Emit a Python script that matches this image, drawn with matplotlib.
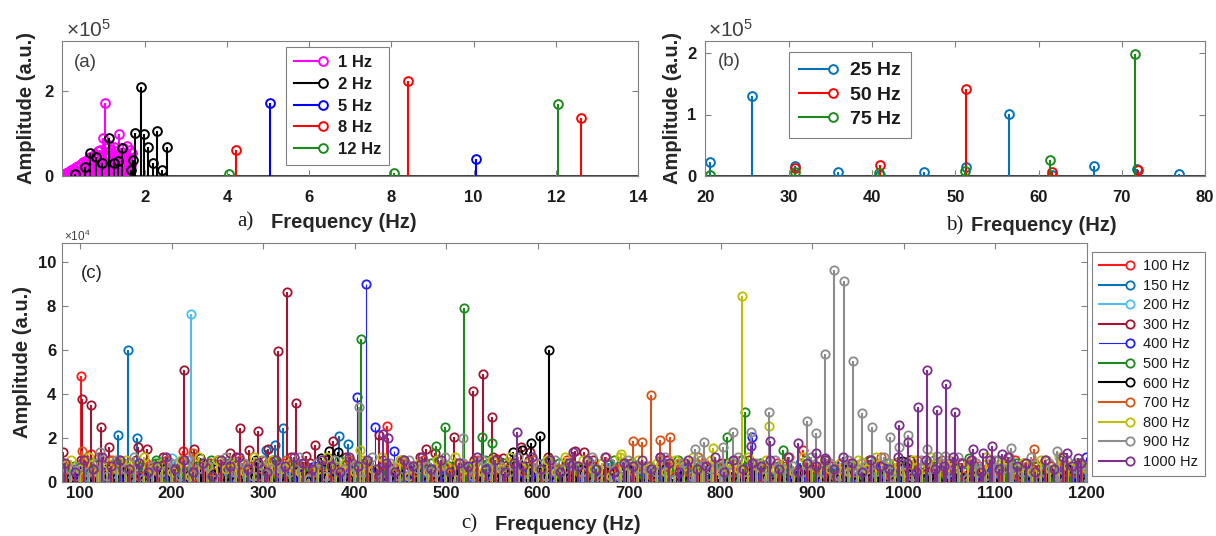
"""Vibration spectra, three stem panels (a: 1-12 Hz, b: 25-75 Hz, c: 100-1000 Hz)."""
import numpy as np
import matplotlib
matplotlib.use("Agg")
import matplotlib.pyplot as plt
from matplotlib.lines import Line2D
from matplotlib.legend_handler import HandlerBase

W, H = 1216, 536
plt.rcParams['font.family'] = ['Liberation Sans', 'DejaVu Sans']
plt.rcParams['mathtext.fontset'] = 'custom'
plt.rcParams['mathtext.rm'] = 'Liberation Sans'

# ---------------- panel (a), amplitudes in 1e5 ----------------
a_labels = ['1 Hz', '2 Hz', '5 Hz', '8 Hz', '12 Hz']
a_colors = ['#ff00ff', '#000000', '#0000ff', '#ff0000', '#1a8a1a']
a1_f = [0.02, 0.05, 0.08, 0.11, 0.14, 0.17, 0.20, 0.23, 0.26, 0.29,
        0.32, 0.35, 0.38, 0.41, 0.44, 0.47, 0.50, 0.53, 0.56, 0.59,
        0.62, 0.65, 0.68, 0.71, 0.74, 0.77, 0.80, 0.83, 0.86, 0.89,
        0.92, 0.95, 0.98, 1.01, 1.04, 1.07, 1.10, 1.13, 1.16, 1.19,
        1.22, 1.25, 1.28, 1.31, 1.34, 1.37, 1.40, 1.43, 1.46, 1.49,
        1.52, 1.55, 1.58, 1.61, 1.64, 1.67, 1.70]
a1_a = [0.05, 0.03, 0.07, 0.04, 0.10, 0.06, 0.13, 0.08, 0.16, 0.05,
        0.20, 0.11, 0.24, 0.09, 0.28, 0.15, 0.32, 0.12, 0.36, 0.20,
        0.40, 0.17, 0.44, 0.25, 0.48, 0.14, 0.52, 0.30, 0.58, 0.22,
        0.62, 0.35, 0.90, 0.50, 1.70, 0.66, 0.42, 0.72, 0.30, 0.60,
        0.45, 0.68, 0.25, 0.58, 0.40, 0.98, 0.50, 0.33, 0.66, 0.20,
        0.55, 0.45, 0.70, 0.30, 0.62, 0.25, 0.55]
a2_f = [0.30, 0.55, 0.67, 0.82, 0.95, 1.12, 1.25, 1.35, 1.45, 1.67, 1.72,
        1.76, 1.90, 1.99, 2.09, 2.19, 2.30, 2.41, 2.53]
a2_a = [0.04, 0.20, 0.53, 0.45, 0.30, 0.90, 0.30, 0.35, 0.66, 0.14, 0.37,
        1.00, 2.08, 0.98, 0.69, 0.30, 1.05, 0.14, 0.69]
a5_f = [5.05, 10.07]
a5_a = [1.70, 0.40]
a8_f = [4.23, 8.40, 12.61]
a8_a = [0.62, 2.22, 1.37]
a12_f = [4.05, 8.07, 12.06]
a12_a = [0.05, 0.07, 1.68]

# ---------------- panel (b), amplitudes in 1e5 ----------------
b_labels = ['25 Hz', '50 Hz', '75 Hz']
b_colors = ['#0072bd', '#ff0000', '#1a8a1a']
b25_f = [20.5, 25.6, 30.8, 35.9, 41.0, 46.2, 51.3, 56.4, 61.6, 66.7, 71.8, 76.9]
b25_a = [0.22, 1.30, 0.17, 0.07, 0.01, 0.07, 0.14, 1.01, 0.02, 0.16, 0.11, 0.04]
b50_f = [30.8, 41.0, 51.3, 61.6, 71.9]
b50_a = [0.13, 0.18, 1.42, 0.07, 0.10]
b75_f = [20.5, 30.7, 40.9, 51.2, 61.4, 71.6]
b75_a = [0.01, 0.06, 0.05, 0.08, 0.26, 1.98]

# ---------------- panel (c), amplitudes in 1e4 ----------------
c_labels = ['100 Hz', '150 Hz', '200 Hz', '300 Hz', '400 Hz', '500 Hz',
            '600 Hz', '700 Hz', '800 Hz', '900 Hz', '1000 Hz']
c_colors = ['#ff1a1a', '#0072bd', '#4dbeee', '#a2142f', '#2020ff', '#1a8a1a',
            '#000000', '#d95319', '#bfbf00', '#8c8c8c', '#7e2f8e']
c_lw = [1.5, 1.5, 1.5, 1.5, 0.8, 1.5, 1.5, 1.5, 1.5, 1.5, 1.5]

# peaks (Hz, amplitude)
c_peak_f = [
    [101, 112, 213, 435, 556, 890],
    [141, 152, 162, 303, 313, 322, 383, 393],
    [201, 221],
    [81, 102, 112, 123, 132, 163, 173, 214, 225, 264, 275, 285, 295, 305, 316,
     326, 336, 347, 357, 376, 427, 478, 488, 509, 529, 540, 550, 562, 582, 592,
     641, 651, 734],
    [403, 413, 422, 443, 834, 1199],
    [183, 407.5, 488.5, 499, 519.5, 539.5, 550, 806.5, 826.5, 868.5, 1071],
    [231, 292, 363, 372, 381.5, 573, 583, 593, 603, 613, 998, 1007, 1190],
    [102, 224, 704, 714, 724, 734, 744.5, 1142],
    [406, 691, 792, 823, 853, 954],
    [121.5, 405, 518.5, 772, 782, 803, 813, 833, 853, 894, 904, 914, 924, 934.5,
     944.5, 955, 965, 985, 995, 1005, 1026, 1036, 1045, 1117, 1168],
    [431, 436, 578, 639, 833, 854, 884, 904, 914, 995, 1005, 1016, 1026, 1036,
     1046.5, 1056.5, 1076, 1086.5, 1097, 1107, 1178, 1190],
]
c_peak_a = [
    [4.82, 1.25, 1.38, 2.55, 1.02, 1.45],
    [2.12, 5.98, 2.00, 1.44, 1.67, 2.42, 2.09, 1.71],
    [1.06, 7.62],
    [1.36, 3.76, 3.48, 2.50, 1.59, 1.60, 1.47, 5.08, 1.48, 1.29, 2.42, 1.44, 2.32,
     1.50, 5.94, 8.64, 3.56, 1.18, 1.67, 1.86, 2.12, 1.48, 1.29, 2.02, 4.14, 4.88,
     2.92, 1.06, 1.59, 1.33, 1.41, 1.36, 1.14],
    [3.86, 8.97, 2.50, 1.39, 2.05, 1.12],
    [1.00, 6.47, 1.64, 2.50, 7.91, 2.02, 1.77, 2.02, 3.15, 1.44, 1.06],
    [1.10, 0.98, 1.10, 1.39, 1.36, 1.36, 1.44, 1.77, 2.09, 5.98, 0.95, 1.00, 0.80],
    [1.41, 1.30, 1.86, 1.82, 3.94, 1.89, 2.05, 1.47],
    [1.44, 1.24, 1.55, 8.44, 2.55, 0.90],
    [1.36, 3.40, 1.97, 1.47, 1.79, 1.59, 2.24, 2.24, 3.15, 2.74, 2.20, 5.80, 9.62,
     9.14, 5.48, 3.12, 2.47, 2.05, 1.59, 2.12, 1.48, 1.18, 1.17, 1.53, 1.39],
    [2.15, 2.00, 2.27, 1.36, 1.64, 1.86, 1.74, 1.29, 1.06, 2.58, 1.82, 3.41, 5.10,
     3.26, 4.44, 3.15, 1.48, 1.32, 1.62, 1.26, 1.29, 1.10],
]
# noise floor: one digit per 10 Hz bin (digit x 0.14e4), first bin at c_noise_start
c_noise_start = [82, 87, 84, 81, 86, 83, 88, 85, 80, 89, 84]
c_noise = [
    "5364275146 3527416253 4172635142 3615243716 2543162734 1526374152 4361527341 6253714265 3142536174 2635147263 5142736415 152",
    "3142536241 5263142536 1425364152 3614253146 2531426315 4263152436 1524361425 3162435142 6314253162 4253614235 1436251423 641",
    "1021012011 0120101201 1010210110 2011010120 1101201011 0210110201 1012011021 0110210101 2010112010 1201101021 1010120110 201",
    "6475836472 5847365748 3657485627 4856374658 3746573846 5738465274 4635247364 5263473526 3425364251 4635243526 2415364253 426",
    "2413524132 5241325413 2514231524 3125413251 4231524132 5413251423 1524312541 3251423152 4132541325 1423152413 2541325142 315",
    "3526147352 6143527164 2537164352 7146253714 6352417365 2417635241 7362514736 2541736254 1736425173 6254173625 4173625417 362",
    "1302413021 4302134201 3402132041 2304123140 2134021340 1240314023 1402341203 4120341021 3402140312 0413201423 1042301324 102",
    "4263574625 3746253647 5263746352 4736254637 2546372546 3725463728 4635274638 2547364258 3647253648 2537463527 4638253746 352",
    "5748364758 4637285746 3857463148 5637485726 3758463748 5647385746 2857463758 4736485746 3857463748 5637485746 3857463748 564",
    "4536274815 3627451836 2745381627 4538162745 3816274538 1627453816 2745381627 4538162745 3816274538 1627453816 2745381627 453",
    "6374857463 5847362758 4637586475 3857463758 4736584736 5847365748 3657486374 5837465748 3657486375 4863745867 3748563748 567",
]


def rect(l, t, r, b):
    return [l / W, 1 - b / H, (r - l) / W, (b - t) / H]


def fxy(x, y):
    return x / W, 1 - y / H


class StemHandler(HandlerBase):
    """Legend entry like MATLAB stem: a line with the open circle at its right end."""

    def create_artists(self, legend, orig, xd, yd, w, h, fs, trans):
        y = (h - yd) / 2
        line = Line2D([-xd, w - xd], [y, y], color=orig.get_color(),
                      lw=orig.get_linewidth(), transform=trans)
        mk = Line2D([w - xd], [y], ls='none', marker='o', ms=orig.get_markersize(),
                    mfc='white', mec=orig.get_color(),
                    mew=orig.get_markeredgewidth(), transform=trans)
        return [line, mk]


def stem(ax, f, a, color, lw, ms, mew):
    ax.vlines(f, 0, a, colors=color, lw=lw, zorder=2)
    ax.plot(f, a, ls='none', marker='o', ms=ms, mfc='none', mec=color, mew=mew,
            zorder=2)
    return Line2D([], [], color=color, lw=lw, marker='o', ms=ms, mec=color, mew=mew)


def style(ax, xlim, ylim, xticks, yticks, xpad, ypad):
    ax.set_xlim(xlim)
    ax.set_ylim(ylim)
    ax.set_xticks(xticks)
    ax.set_yticks(yticks)
    ax.tick_params(direction='in', length=4, width=0.8, color='#808080',
                   top=True, right=True, labelsize=12, labelcolor='#1a1a1a')
    ax.tick_params(axis='x', pad=xpad)
    ax.tick_params(axis='y', pad=ypad)
    for lab in ax.get_xticklabels() + ax.get_yticklabels():
        lab.set_fontweight('bold')
    for s in ax.spines.values():
        s.set_color('#808080')
        s.set_linewidth(0.8)


def legend(ax, handles, labels, x, y, size, weight, spacing, hlen, tpad, bpad):
    leg = ax.legend(handles, labels, loc='upper left', bbox_to_anchor=fxy(x, y),
                    bbox_transform=fig.transFigure, borderaxespad=0,
                    handler_map={Line2D: StemHandler()}, fancybox=False,
                    framealpha=1, edgecolor='#808080',
                    prop={'size': size, 'weight': weight}, labelspacing=spacing,
                    handlelength=hlen, handletextpad=tpad, borderpad=bpad)
    leg.get_frame().set_linewidth(0.8)
    for t in leg.get_texts():
        t.set_color('#1a1a1a')
    leg.set_zorder(5)
    return leg


def xlabel(x_tag, x_text, y, tag):
    fig.text(*fxy(x_tag, y), tag, family='Liberation Serif', fontsize=15,
             ha='center', va='center', color='#1a1a1a')
    fig.text(*fxy(x_text, y), 'Frequency (Hz)', fontsize=14.5, fontweight='bold',
             ha='left', va='center', color='#262626')


def ylabel(x, y):
    fig.text(*fxy(x, y), 'Amplitude (a.u.)', fontsize=14.5, fontweight='bold',
             rotation=90, ha='center', va='center', color='#262626')


fig = plt.figure(figsize=(W / 100, H / 100), dpi=100)

# ---- (a)
ax = fig.add_axes(rect(62.5, 40.7, 638, 176))
ax.axhline(0, color='#1a1a1a', lw=1.2, zorder=1.5)
hs = []
for f, a, c in zip([a1_f, a2_f, a5_f, a8_f, a12_f], [a1_a, a2_a, a5_a, a8_a, a12_a],
                   a_colors):
    hs.append(stem(ax, f, a, c, 1.5, 6.3, 1.4))
style(ax, (0, 14), (0, 3.17), [2, 4, 6, 8, 10, 12, 14], [0, 2], 10, 6.5)
legend(ax, hs, a_labels, 286, 47, 12, 'bold', 0.4, 1.7, 0.9, 0.5)
fig.text(*fxy(85, 62), '(a)', fontsize=13.5, color='#404040', ha='center',
         va='center')
fig.text(*fxy(66, 30), r'$\mathregular{\times10^5}$', fontsize=15,
         color='#404040', ha='left', va='center')
xlabel(245, 271, 222, 'a)')
ylabel(27, 108)

# ---- (b)
ax = fig.add_axes(rect(705.5, 40.7, 1205, 176))
ax.axhline(0, color='#1a1a1a', lw=1.2, zorder=1.5)
hs = []
for f, a, c in zip([b25_f, b50_f, b75_f], [b25_a, b50_a, b75_a], b_colors):
    hs.append(stem(ax, f, a, c, 1.5, 6.3, 1.4))
style(ax, (20, 80), (0, 2.2), [20, 30, 40, 50, 60, 70, 80], [0, 1, 2], 10, 6.5)
legend(ax, hs, b_labels, 789, 52, 14, 'bold', 0.35, 1.75, 0.9, 0.5)
fig.text(*fxy(729, 61), '(b)', fontsize=13.5, color='#404040', ha='center',
         va='center')
fig.text(*fxy(708, 30), r'$\mathregular{\times10^5}$', fontsize=15,
         color='#404040', ha='left', va='center')
xlabel(955, 971, 226, 'b)')
ylabel(673, 108)

# ---- (c)
ax = fig.add_axes(rect(61.7, 243.3, 1086.7, 481.7))
hs = []
for k in range(len(c_labels)):
    digits = "".join(c_noise[k].split())
    nf = c_noise_start[k] + 10 * np.arange(len(digits))
    na = np.array([int(d) for d in digits]) * 0.14
    keep = nf <= 1200
    f = np.concatenate([nf[keep], c_peak_f[k]])
    a = np.concatenate([na[keep], c_peak_a[k]])
    hs.append(stem(ax, f, a, c_colors[k], c_lw[k], 6.0, 1.3))
style(ax, (80, 1200), (0, 10.84), list(range(100, 1201, 100)), [0, 2, 4, 6, 8, 10],
      3, 4)
legend(ax, hs, c_labels, 1092, 252, 10.5, 'normal', 0.38, 2.1, 0.9, 0.5)
fig.text(*fxy(92, 273), '(c)', fontsize=13.5, color='#262626', ha='center',
         va='center')
fig.text(*fxy(64, 236), r'$\mathregular{\times10^4}$', fontsize=8.5,
         color='#404040', ha='left', va='center')
xlabel(469, 495, 524, 'c)')
ylabel(23, 362)

fig.savefig('out.png', dpi=100)
